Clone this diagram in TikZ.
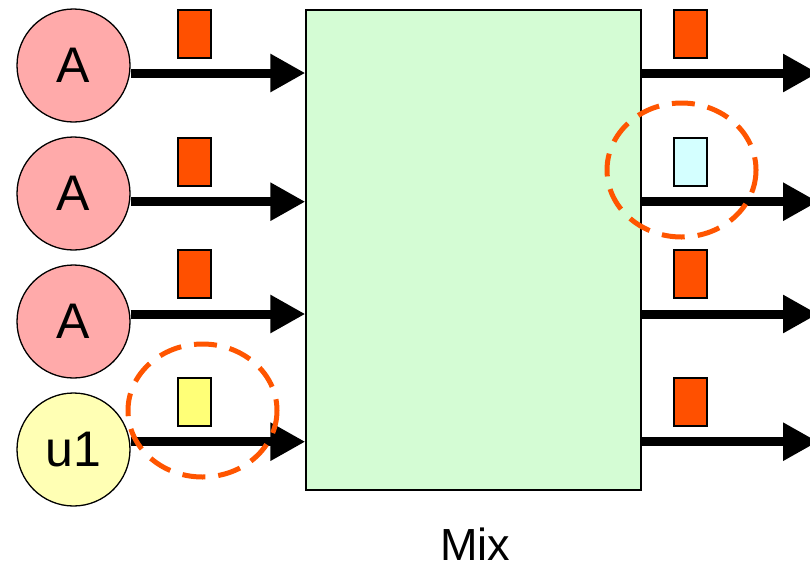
\documentclass[tikz,border=0pt]{standalone}
\usepackage{fontspec}
\setmainfont{Liberation Sans}
\usetikzlibrary{arrows.meta}
\definecolor{srcColor}{RGB}{255,170,170}
\definecolor{usrColor}{RGB}{255,255,180}
\definecolor{mixColor}{RGB}{212,252,212}
\definecolor{pktColor}{RGB}{255,80,0}
\definecolor{newColor}{RGB}{255,255,119}
\definecolor{outColor}{RGB}{212,255,255}
\definecolor{markColor}{RGB}{255,85,0}
\tikzset{
  src/.style={circle, draw, line width=1.3pt, fill=srcColor, minimum size=113pt, inner sep=0pt, font=\fontsize{50}{50}\selectfont},
  pkt/.style={rectangle, draw, line width=1.2pt, fill=pktColor, minimum width=33pt, minimum height=48pt, inner sep=0pt},
  flow/.style={line width=9pt, -{Triangle[length=35pt,width=36pt]}},
  hl/.style={draw=markColor, line width=5pt, dash pattern=on 23pt off 13pt},
}

\begin{document}
\begin{tikzpicture}[x=1pt,y=-1pt]
\useasboundingbox (0,0) rectangle (810,568);

\node [draw, line width=1.3pt, fill=mixColor, minimum width=335pt, minimum height=480pt, inner sep=0pt] (mix) at (473.5,250) {};
\node [font=\fontsize{45}{45}\selectfont, anchor=base] (lbl) at (475,560) {Mix};

\node [src] (a1) at (73.5,65.5) {A};
\node [src] (a2) at (73.5,193.5) {A};
\node [src] (a3) at (73.5,321.5) {A};
\node [src, fill=usrColor] (u1) at (73.5,449.5) {u1};

\node [pkt] (p1) at (194.5,34) {};
\node [pkt] (p2) at (194.5,162) {};
\node [pkt] (p3) at (194.5,274) {};
\node [pkt, fill=newColor] (p4) at (194.5,402) {};

\node [pkt] (q1) at (690.5,34) {};
\node [pkt, fill=outColor] (q2) at (690.5,162) {};
\node [pkt] (q3) at (690.5,274) {};
\node [pkt] (q4) at (690.5,402) {};

\draw [flow] (a1.east |- 0,73) -- (mix.west |- 0,73);
\draw [flow] (a2.east |- 0,201.7) -- (mix.west |- 0,201.7);
\draw [flow] (a3.east |- 0,314) -- (mix.west |- 0,314);
\draw [flow] (u1.east |- 0,441.7) -- (mix.west |- 0,441.7);

\coordinate (o1) at (818,73);
\coordinate (o2) at (818,201.7);
\coordinate (o3) at (818,314);
\coordinate (o4) at (818,441.7);
\draw [flow] (mix.east |- o1) -- (o1);
\draw [flow] (mix.east |- o2) -- (o2);
\draw [flow] (mix.east |- o3) -- (o3);
\draw [flow] (mix.east |- o4) -- (o4);

\draw [hl] (202.5,410.5) ellipse (74.5 and 66.5);
\draw [hl] (681.5,170) ellipse (74.5 and 67);
\end{tikzpicture}
\end{document}
